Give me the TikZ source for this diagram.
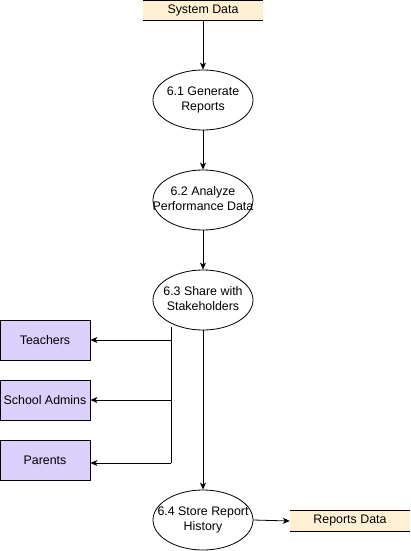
\documentclass[tikz,border=0pt]{standalone}
\usepackage{fontspec}
\setmainfont{Liberation Sans}
\usetikzlibrary{shapes.geometric,arrows.meta,calc}
\definecolor{storefill}{HTML}{FFF0D4}
\definecolor{entfill}{HTML}{DAD0FB}
\newcommand{\fixtext}[1]{\smash{\makebox[0pt]{\raisebox{-3.2pt}{\begin{tabular}{@{}c@{}}#1\end{tabular}}}}}
\begin{document}
\begin{tikzpicture}[x=1pt,y=-1pt,
  every node/.style={font=\fontsize{12.4}{14.5}\selectfont, inner sep=0pt},
  proc/.style={ellipse,draw,line width=0.8pt,minimum width=100pt,minimum height=60pt},
  ent/.style={rectangle,draw,line width=0.8pt,fill=entfill,minimum width=90pt,minimum height=40pt},
  storebox/.style={rectangle,fill=storefill,minimum width=120pt,minimum height=20pt},
  flow/.style={line width=0.8pt,-{Stealth[length=7pt,width=6pt,inset=2pt]}}]
\useasboundingbox (0,0) rectangle (411,551);
% data stores
\node[storebox] (sd) at (203,10) {System Data};
\draw[line width=0.8pt] ($(sd.north west)+(0,0.5)$) -- ($(sd.north east)+(0,0.5)$);
\draw[line width=0.8pt] (sd.south west) -- (sd.south east);
\node[storebox] (rd) at (350,521) {Reports Data};
\draw[line width=0.8pt] (rd.north west) -- (rd.north east);
\draw[line width=0.8pt] (rd.south west) -- (rd.south east);
% processes
\node[proc] (p1) at (203,100) {\fixtext{6.1 Generate\\Reports}};
\node[proc] (p2) at (203,200) {\fixtext{6.2 Analyze\\Performance Data}};
\node[proc] (p3) at (203,300) {\fixtext{6.3 Share with\\Stakeholders}};
\node[proc] (p4) at (203,520) {\fixtext{6.4 Store Report\\History}};
% entities
\node[ent] (t) at (45,340) {Teachers};
\node[ent] (sa) at (45,400) {School Admins};
\node[ent] (pa) at (45,460) {Parents};
% branch
\coordinate (b0) at (171,327);
\coordinate (b1) at (171,340);
\coordinate (b2) at (171,400);
\coordinate (b3) at (171,463);
% flows
\draw[flow] (sd.south) -- (p1.north);
\draw[flow] (p1.south) -- (p2.north);
\draw[flow] (p2.south) -- (p3.north);
\draw[flow] (p3.south) -- (p4.north);
\draw[line width=0.8pt] (b0) -- (b3);
\draw[flow] (b1) -- (t.east);
\draw[flow] (b2) -- (sa.east);
\draw[flow] (b3) -- (pa.east |- b3);
\draw[flow] (p4.east) -- (rd.west);
\end{tikzpicture}
\end{document}
